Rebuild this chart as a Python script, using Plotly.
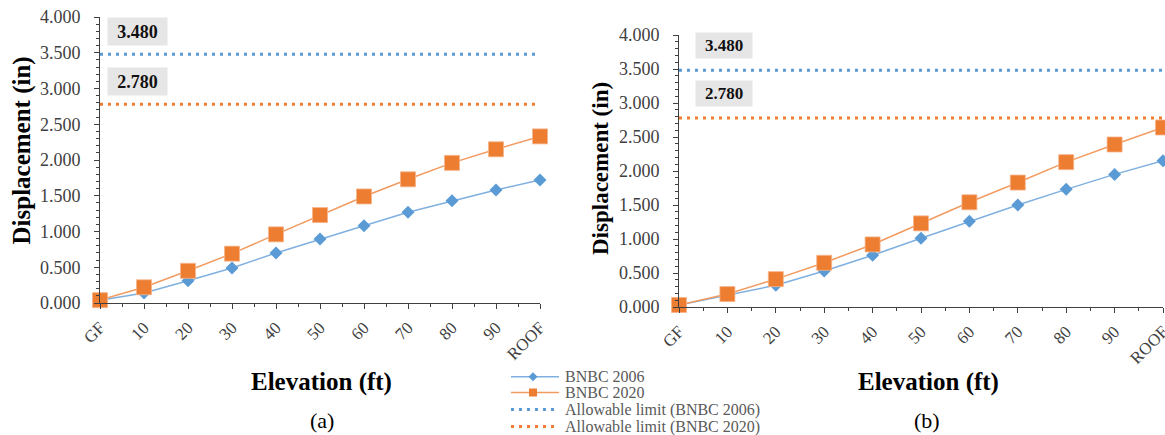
import plotly.graph_objects as go

W, H = 1165, 435

# ---------------- data ----------------
categories = ["GF", "10", "20", "30", "40", "50", "60", "70", "80", "90", "ROOF"]
a_bnbc2006 = [0.04, 0.14, 0.31, 0.49, 0.70, 0.895, 1.08, 1.27, 1.43, 1.58, 1.72]
a_bnbc2020 = [0.04, 0.22, 0.45, 0.69, 0.96, 1.23, 1.49, 1.73, 1.96, 2.15, 2.33]
b_bnbc2006 = [0.03, 0.17, 0.32, 0.53, 0.76, 1.01, 1.26, 1.50, 1.73, 1.95, 2.15]
b_bnbc2020 = [0.03, 0.19, 0.41, 0.65, 0.92, 1.23, 1.54, 1.83, 2.13, 2.39, 2.64]
limit_2006 = 3.480
limit_2020 = 2.780
series_names = ["BNBC 2006", "BNBC 2020",
                "Allowable limit (BNBC 2006)", "Allowable limit (BNBC 2020)"]
panel_labels = ["(a)", "(b)"]

# ---------------- style ----------------
BLUE = "#5B9BD5"
ORANGE = "#ED7D31"
BLUE_LINE = "#7FB0E0"
ORANGE_LINE = "#F29B60"
AXIS = "#404040"
FONT = "Liberation Serif"
DOT = "3px,5px"

xpos = list(range(len(categories)))


def px(x):
    return x / W


def py(y):
    return 1 - y / H


panels = [
    dict(x="x", y="y", xdom=[px(100), px(540)], ydom=[py(303), py(17)],
         s06=a_bnbc2006, s20=a_bnbc2020, box_x=0.852, shift06=23, shift20=23,
         boxfont=18, boxw=57, boxh=25,
         ytitle=(21, 150.5, 25), xtitle=(321, 382), lab=(322, 420)),
    dict(x="x2", y="y2", xdom=[px(679), px(1163)], ydom=[py(307), py(35)],
         s06=b_bnbc2006, s20=b_bnbc2020, box_x=0.93, shift06=25, shift20=24.5,
         boxfont=17, boxw=54, boxh=23,
         ytitle=(600, 169, 23), xtitle=(928, 382), lab=(927, 420)),
]

fig = go.Figure()
annotations = []
layout_axes = {}

for i, p in enumerate(panels):
    # data series
    fig.add_trace(go.Scatter(
        x=xpos, y=p["s06"], xaxis=p["x"], yaxis=p["y"], mode="lines+markers",
        name=series_names[0], showlegend=False, cliponaxis=False,
        line=dict(color=BLUE_LINE, width=1.5),
        marker=dict(symbol="diamond", size=10, color=BLUE, line=dict(width=0))))
    fig.add_trace(go.Scatter(
        x=xpos, y=p["s20"], xaxis=p["x"], yaxis=p["y"], mode="lines+markers",
        name=series_names[1], showlegend=False, cliponaxis=False,
        line=dict(color=ORANGE_LINE, width=1.5),
        marker=dict(symbol="square", size=15, color=ORANGE, line=dict(width=0.8, color="#F6B48A"))))
    # allowable limits
    fig.add_trace(go.Scatter(
        x=[xpos[0], xpos[-1]], y=[limit_2006, limit_2006], xaxis=p["x"], yaxis=p["y"],
        mode="lines", name=series_names[2], showlegend=False, cliponaxis=False,
        line=dict(color=BLUE, width=3, dash=DOT)))
    fig.add_trace(go.Scatter(
        x=[xpos[0], xpos[-1]], y=[limit_2020, limit_2020], xaxis=p["x"], yaxis=p["y"],
        mode="lines", name=series_names[3], showlegend=False, cliponaxis=False,
        line=dict(color=ORANGE, width=3, dash=DOT)))

    xk = "xaxis" if i == 0 else "xaxis2"
    yk = "yaxis" if i == 0 else "yaxis2"
    xok = "xaxis3" if i == 0 else "xaxis4"
    yok = "yaxis3" if i == 0 else "yaxis4"

    layout_axes[xk] = dict(
        domain=p["xdom"], anchor=p["y"], range=[xpos[0], xpos[-1]], automargin=False,
        tickmode="array", tickvals=xpos, ticktext=categories, tickangle=-45,
        ticklabeloverflow="allow",
        ticks="outside", ticklen=5, tickwidth=1, tickcolor=AXIS,
        minor=dict(tickmode="linear", tick0=0, dtick=0.5, ticks="outside",
                   ticklen=3, tickwidth=1, tickcolor=AXIS),
        showline=True, linecolor=AXIS, linewidth=1, showgrid=False, zeroline=False,
        tickfont=dict(family=FONT, size=17, color=AXIS), ticklabelstandoff=2)
    layout_axes[yk] = dict(
        domain=p["ydom"], anchor=p["x"], range=[0, 4], automargin=False,
        ticklabeloverflow="allow",
        tickmode="linear", tick0=0,
        dtick=0.5, tickformat=".3f", ticks="outside", ticklen=5, tickwidth=1,
        tickcolor=AXIS,
        minor=dict(tickmode="linear", tick0=0, dtick=0.1, ticks="outside",
                   ticklen=3, tickwidth=1, tickcolor=AXIS),
        showline=True, linecolor=AXIS, linewidth=1, showgrid=False, zeroline=False,
        tickfont=dict(family=FONT, size=18, color=AXIS), ticklabelstandoff=10)
    # overlay axes to make the ticks cross the axis line
    layout_axes[xok] = dict(
        overlaying=p["x"], anchor=p["y"], range=[xpos[0], xpos[-1]], side="bottom",
        automargin=False,
        tickmode="linear", tick0=0, dtick=1, ticks="inside", ticklen=5, tickwidth=1,
        tickcolor=AXIS, showticklabels=False, showline=False, showgrid=False,
        zeroline=False,
        minor=dict(tickmode="linear", tick0=0, dtick=0.5, ticks="inside",
                   ticklen=3, tickwidth=1, tickcolor=AXIS))
    layout_axes[yok] = dict(
        overlaying=p["y"], anchor=p["x"], range=[0, 4], side="left",
        automargin=False,
        tickmode="linear", tick0=0, dtick=0.5, ticks="inside", ticklen=5, tickwidth=1,
        tickcolor=AXIS, showticklabels=False, showline=False, showgrid=False,
        zeroline=False,
        minor=dict(tickmode="linear", tick0=0, dtick=0.1, ticks="inside",
                   ticklen=3, tickwidth=1, tickcolor=AXIS))

    # limit value boxes
    for lim, sh in ((limit_2006, p["shift06"]), (limit_2020, p["shift20"])):
        annotations.append(dict(
            x=p["box_x"], y=lim, xref=p["x"], yref=p["y"], yshift=sh,
            text=f"<b>{lim:.3f}</b>", showarrow=False, bgcolor="#E7E6E6",
            width=p["boxw"], height=p["boxh"], borderpad=1,
            font=dict(family=FONT, size=p["boxfont"], color="#111111")))

    # axis titles and panel labels
    tx, ty, ts = p["ytitle"]
    annotations.append(dict(
        x=px(tx), y=py(ty), xref="paper", yref="paper", text="<b>Displacement (in)</b>",
        textangle=-90, showarrow=False, xanchor="center", yanchor="middle",
        font=dict(family=FONT, size=ts, color="#000000")))
    annotations.append(dict(
        x=px(p["xtitle"][0]), y=py(p["xtitle"][1]), xref="paper", yref="paper",
        text="<b>Elevation (ft)</b>", showarrow=False, xanchor="center", yanchor="middle",
        font=dict(family=FONT, size=25, color="#000000")))
    annotations.append(dict(
        x=px(p["lab"][0]), y=py(p["lab"][1]), xref="paper", yref="paper",
        text=panel_labels[i], showarrow=False, xanchor="center", yanchor="middle",
        font=dict(family=FONT, size=22, color="#000000")))

# ---------------- legend (drawn manually for tight row spacing) ----------------
shapes = []
rows_y = [376.7, 392.5, 409.5, 426.5]
lx0, lx1, lmid, ltext = 511, 559, 533, 563
legend_styles = [
    dict(color=BLUE_LINE, width=1.5, dash="solid", marker=("diamond", BLUE)),
    dict(color=ORANGE_LINE, width=1.5, dash="solid", marker=("square", ORANGE)),
    dict(color=BLUE, width=3, dash=DOT, marker=None),
    dict(color=ORANGE, width=3, dash=DOT, marker=None),
]
for name, ry, st in zip(series_names, rows_y, legend_styles):
    shapes.append(dict(type="line", xref="paper", yref="paper",
                       x0=px(lx0), x1=px(lx1), y0=py(ry), y1=py(ry),
                       line=dict(color=st["color"], width=st["width"], dash=st["dash"])))
    if st["marker"]:
        sym, col = st["marker"]
        if sym == "diamond":
            r = 4.5
            path = (f"M {px(lmid - r)} {py(ry)} L {px(lmid)} {py(ry - r)} "
                    f"L {px(lmid + r)} {py(ry)} L {px(lmid)} {py(ry + r)} Z")
            shapes.append(dict(type="path", xref="paper", yref="paper", path=path,
                               fillcolor=col, line=dict(width=0)))
        else:
            r = 4
            shapes.append(dict(type="rect", xref="paper", yref="paper",
                               x0=px(lmid - r), x1=px(lmid + r),
                               y0=py(ry + r), y1=py(ry - r),
                               fillcolor=col, line=dict(width=0)))
    annotations.append(dict(
        x=px(ltext), y=py(ry), xref="paper", yref="paper", text=name, showarrow=False,
        xanchor="left", yanchor="middle",
        font=dict(family=FONT, size=16, color="#595959")))

fig.update_layout(
    width=W, height=H, margin=dict(l=0, r=0, t=0, b=0, pad=0, autoexpand=False),
    paper_bgcolor="white", plot_bgcolor="white", showlegend=False,
    annotations=annotations, shapes=shapes, **layout_axes)

fig.write_html("out.html", config={"displayModeBar": False})
